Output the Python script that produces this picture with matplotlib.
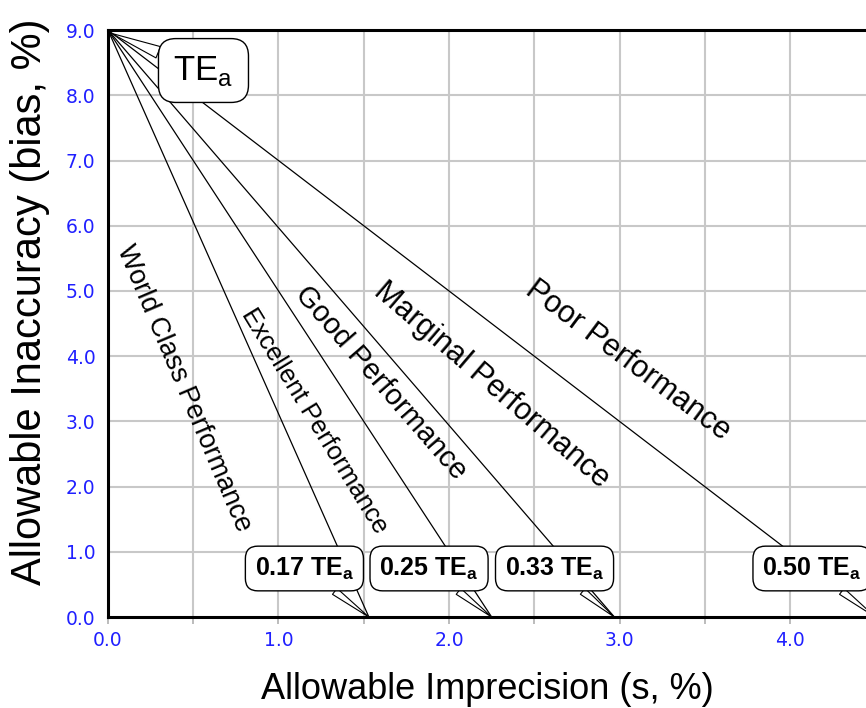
import matplotlib.pyplot as plt

# allowable total error and the imprecision fractions of it
te_a = 9.0
fractions = [0.17, 0.25, 0.33, 0.50]
box_labels = ['0.17 TE$_\\mathregular{a}$', '0.25 TE$_\\mathregular{a}$',
              '0.33 TE$_\\mathregular{a}$', '0.50 TE$_\\mathregular{a}$']
box_x = [1.152, 1.883, 2.619, 4.129]

zone_names = ['World Class Performance', 'Excellent Performance', 'Good Performance',
              'Marginal Performance', 'Poor Performance']
zone_x = [0.446, 1.21, 1.60, 2.25, 3.05]
zone_y = [3.50, 3.00, 3.60, 3.56, 3.94]
zone_angle = [-67.0, -58.6, -49.0, -40.6, -36.7]
zone_size = [19.5, 18.5, 21, 22, 22]

x_ticks = [0.0, 1.0, 2.0, 3.0, 4.0]
y_ticks = [0.0, 1.0, 2.0, 3.0, 4.0, 5.0, 6.0, 7.0, 8.0, 9.0]

plt.rcParams['font.family'] = ['Liberation Sans', 'DejaVu Sans']

fig = plt.figure(figsize=(8.66, 7.08), dpi=100)
ax = fig.add_axes([0.1247, 0.1285, 0.886, 0.829])

ax.set_xlim(0, 4.5)
ax.set_ylim(0, 9.0)

# grid
for gx in [0.5 * i for i in range(1, 10)]:
    ax.axvline(gx, color='#c8c8c8', lw=1.5, zorder=0)
for gy in y_ticks[1:]:
    ax.axhline(gy, color='#c8c8c8', lw=1.5, zorder=0)

# operating limit lines
for f in fractions:
    ax.plot([0, f * te_a], [te_a, 0], color='black', lw=0.9, zorder=2)

for name, x, y, a, s in zip(zone_names, zone_x, zone_y, zone_angle, zone_size):
    ax.text(x, y, name, rotation=a, rotation_mode='anchor', ha='center', va='center',
            fontsize=s, color='black', zorder=3)

# callout boxes
for lbl, bx, f in zip(box_labels, box_x, fractions):
    ax.annotate(lbl, xy=(f * te_a, 0), xytext=(bx, 0.744), textcoords='data',
                fontsize=18, fontweight='bold', ha='center', va='center',
                bbox=dict(boxstyle='round,pad=0.37,rounding_size=0.5', fc='white', ec='black', lw=1.0),
                arrowprops=dict(arrowstyle='wedge,tail_width=0.3', fc='white', ec='black', lw=0.8,
                                shrinkA=0, shrinkB=0),
                annotation_clip=False, zorder=5)

ax.annotate('TE$_\\mathregular{a}$', xy=(0.02, te_a - 0.05), xytext=(0.56, 8.38), textcoords='data',
            fontsize=25, ha='center', va='center',
            bbox=dict(boxstyle='round,pad=0.43,rounding_size=0.5', fc='white', ec='black', lw=1.0),
            arrowprops=dict(arrowstyle='wedge,tail_width=0.35', fc='white', ec='black', lw=0.8,
                            shrinkA=0, shrinkB=0),
            zorder=5)

ax.set_xticks(x_ticks, labels=['%.1f' % v for v in x_ticks])
ax.set_xticks([0.5, 1.5, 2.5, 3.5], minor=True)
ax.set_yticks(y_ticks, labels=['%.1f' % v for v in y_ticks])
ax.tick_params(axis='both', which='both', colors='#b0b0b0', labelcolor='#2020ff', labelsize=13.5,
               labelfontfamily='DejaVu Sans', length=5, width=1.2)
ax.tick_params(axis='x', which='major', pad=5)
ax.tick_params(axis='y', length=0, pad=9)

for side in ['left', 'bottom', 'top']:
    ax.spines[side].set_linewidth(2.2)
ax.spines['right'].set_visible(False)

ax.set_xlabel('Allowable Imprecision (s, %)', fontsize=26, va='center')
ax.set_ylabel('Allowable Inaccuracy (bias, %)', fontsize=30, va='center')
ax.xaxis.set_label_coords(0.495, -0.124)
ax.yaxis.set_label_coords(-0.1017, 0.538)

fig.savefig('out.png', dpi=100)
